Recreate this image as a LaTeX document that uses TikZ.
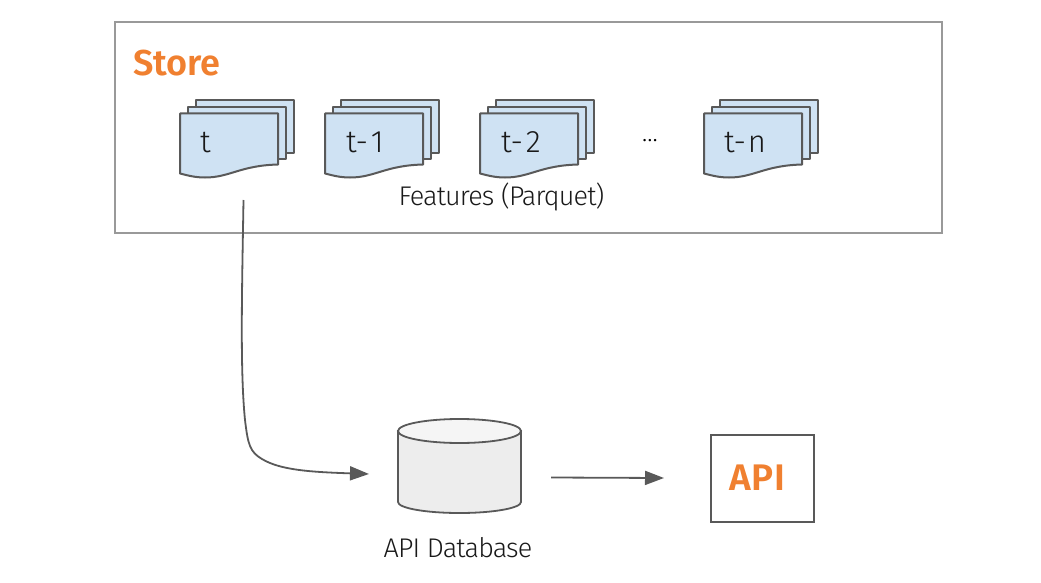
\documentclass[tikz,border=0pt]{standalone}
\usepackage{fontspec}
\setmainfont{Fira Sans Light}[BoldFont={Fira Sans SemiBold}]
\usetikzlibrary{arrows.meta,shapes.geometric}
\definecolor{docfill}{HTML}{CFE2F3}
\definecolor{edge}{HTML}{595959}
\definecolor{accent}{HTML}{F08030}
\tikzset{
  x=1pt,y=-1pt,
  framebox/.style={draw=black!40,line width=2pt},
  sheet/.style={draw=edge,fill=docfill,line width=2pt,line join=round},
  doclabel/.style={anchor=base west,font=\fontsize{31}{34}\selectfont,inner sep=0pt,text=black!90},
  caption/.style={anchor=base,font=\fontsize{27}{30}\selectfont\addfontfeatures{LetterSpace=-3.2},inner sep=0pt,text=black!90},
  accentlabel/.style={anchor=base west,font=\fontsize{36}{39}\selectfont\bfseries,text=accent,inner sep=0pt},
  link/.style={draw=edge,line width=1.8pt,-{Triangle[length=19pt,width=14pt]}},
  cyl/.style={draw=edge,line width=1.8pt},
}
\newcommand{\docstack}[4]{%
  \begin{scope}[shift={(#1,113.5)}]
    \path[sheet] (16,-13) -- (114,-13) -- (114,39) -- (16,39) -- cycle;
    \path[sheet] (8,-6) -- (106,-6) -- (106,45) -- (8,45) -- cycle;
    \path[sheet] (0,0) -- (98,0) -- (98,51) .. controls (60,52) and (50,64) .. (25,64) .. controls (15,64) and (8,62) .. (0,60) -- cycle;
    \node[doclabel] (#2) at (#3,39) {#4};
  \end{scope}}
\begin{document}
\begin{tikzpicture}
\useasboundingbox (0,0) rectangle (1041,583);
\node[framebox,minimum width=826.5pt,minimum height=210.5pt,anchor=north west,inner sep=0pt] (store) at (114,21) {};
\node[accentlabel] (storelabel) at (133,76) {Store};
\docstack{180}{dt}{20}{t}
\docstack{325}{dtone}{21}{t-\kern3pt 1}
\docstack{480}{dttwo}{21}{t-\kern3pt 2}
\docstack{704}{dtn}{20}{t-\kern2pt n}
\node[anchor=base,font=\fontsize{25}{28}\selectfont,inner sep=0pt] (dots) at (650,142) {...};
\node[caption] (features) at (501.5,205) {Features (Parquet)};
% database
\path[cyl,fill=black!7] (398,431) -- (398,502) .. controls (398,508) and (425,513) .. (459.5,513) .. controls (494,513) and (521,508) .. (521,502) -- (521,431) -- cycle;
\node[draw=edge,fill=black!4,line width=1.8pt,shape=ellipse,minimum width=123pt,minimum height=24pt,inner sep=0pt] (db) at (459.5,431) {};
\node[caption] (dblabel) at (458,557) {API Database};
% api
\node[draw=edge,line width=2pt,minimum width=103pt,minimum height=86.5pt,anchor=north west,inner sep=0pt] (api) at (709.5,434) {};
\node[accentlabel,font=\fontsize{37}{39}\selectfont\bfseries\addfontfeatures{LetterSpace=2}] (apilabel) at (729,490) {API};
\coordinate (a0) at (243.5,200);
\coordinate (a1) at (369,474);
\coordinate (b0) at (551,477.5);
\coordinate (b1) at (664,478);
\draw[link] (a0) .. controls (242,290) and (240,370) .. (245,420) .. controls (248,445) and (250,452) .. (262,459) .. controls (280,470) and (310,472) .. (a1);
\draw[link] (b0) -- (b1);
\end{tikzpicture}
\end{document}
